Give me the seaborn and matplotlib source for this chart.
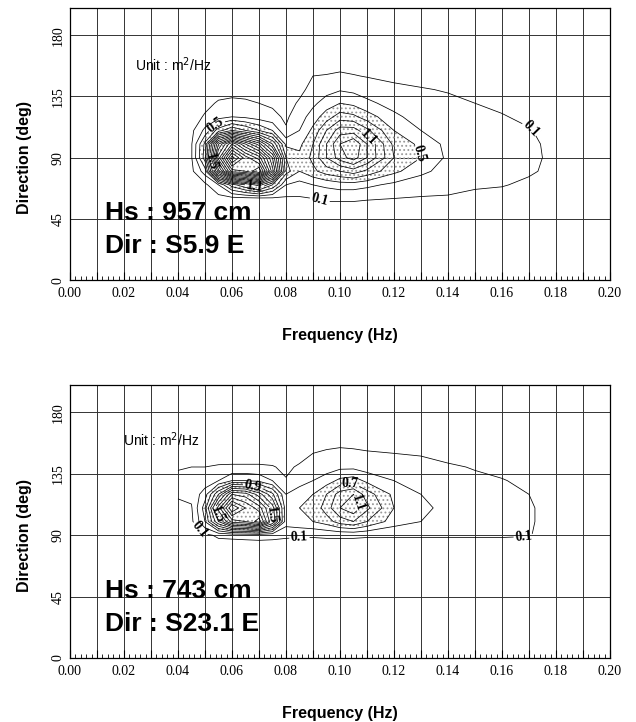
import numpy as np
import matplotlib
matplotlib.use("Agg")
import matplotlib.pyplot as plt
import seaborn as sns
from matplotlib.ticker import MultipleLocator

# grid of the directional spectra, unit m^2/Hz
freq = [0.040, 0.045, 0.050, 0.055, 0.060, 0.065, 0.070, 0.075, 0.080, 0.085, 0.090,
        0.095, 0.100, 0.105, 0.110, 0.120, 0.130, 0.140, 0.150, 0.160, 0.170, 0.180]
dirs = [40, 50, 60, 70, 80, 90, 100, 110, 120, 130, 140, 150, 160]

# one row per frequency, values over dirs
spec_top = [
    [0, 0, 0, 0, 0, 0, 0, 0, 0, 0, 0, 0, 0],
    [0, 0, 0, 0.02, 0.05, 0.08, 0.08, 0.05, 0.02, 0, 0, 0, 0],
    [0, 0, 0.01, 0.05, 0.4, 0.8, 0.75, 0.35, 0.12, 0.05, 0, 0, 0],
    [0, 0, 0.02, 0.3, 2.0, 2.8, 2.3, 0.8, 0.22, 0.12, 0.03, 0, 0],
    [0, 0, 0.03, 0.8, 3.2, 4.0, 3.1, 1.1, 0.3, 0.14, 0.04, 0, 0],
    [0, 0, 0.04, 1.1, 3.3, 3.4, 2.5, 0.9, 0.26, 0.13, 0.03, 0, 0],
    [0, 0, 0.05, 1.4, 3.7, 3.0, 2.0, 0.7, 0.2, 0.1, 0.02, 0, 0],
    [0, 0, 0.06, 0.9, 2.4, 2.1, 1.3, 0.5, 0.15, 0.07, 0.01, 0, 0],
    [0, 0.01, 0.07, 0.3, 0.8, 0.7, 0.45, 0.12, 0.07, 0.04, 0.01, 0, 0],
    [0, 0.02, 0.08, 0.22, 0.5, 0.55, 0.45, 0.3, 0.2, 0.12, 0.06, 0.01, 0],
    [0, 0.03, 0.1, 0.3, 0.65, 0.75, 0.7, 0.55, 0.4, 0.25, 0.15, 0.1, 0],
    [0, 0.03, 0.12, 0.35, 0.8, 1.1, 1.1, 0.9, 0.6, 0.4, 0.22, 0.11, 0.02],
    [0, 0.03, 0.12, 0.4, 0.9, 1.4, 1.5, 1.2, 0.8, 0.5, 0.28, 0.13, 0.03],
    [0, 0.03, 0.12, 0.4, 1.0, 1.6, 1.7, 1.2, 0.75, 0.45, 0.25, 0.11, 0.02],
    [0, 0.03, 0.11, 0.35, 0.85, 1.3, 1.3, 0.95, 0.6, 0.35, 0.2, 0.09, 0.01],
    [0, 0.03, 0.1, 0.25, 0.55, 0.7, 0.65, 0.5, 0.35, 0.22, 0.14, 0.06, 0],
    [0, 0.02, 0.09, 0.16, 0.36, 0.5, 0.45, 0.3, 0.2, 0.14, 0.11, 0.05, 0],
    [0, 0.02, 0.09, 0.13, 0.2, 0.26, 0.24, 0.2, 0.16, 0.13, 0.09, 0.02, 0],
    [0, 0.01, 0.06, 0.12, 0.17, 0.19, 0.18, 0.16, 0.13, 0.1, 0.05, 0, 0],
    [0, 0, 0.04, 0.11, 0.15, 0.16, 0.15, 0.14, 0.11, 0.07, 0.02, 0, 0],
    [0, 0, 0.01, 0.07, 0.12, 0.13, 0.13, 0.11, 0.07, 0.03, 0, 0, 0],
    [0, 0, 0, 0.02, 0.06, 0.07, 0.06, 0.04, 0.02, 0, 0, 0, 0],
]

spec_bottom = [
    [0, 0, 0, 0, 0, 0, 0.02, 0.04, 0.13, 0.13, 0.09, 0, 0],
    [0, 0, 0, 0, 0, 0.02, 0.05, 0.08, 0.15, 0.14, 0.1, 0, 0],
    [0, 0, 0, 0, 0, 0.06, 0.5, 0.6, 0.4, 0.18, 0.1, 0, 0],
    [0, 0, 0, 0, 0, 0.13, 1.3, 1.8, 1.1, 0.3, 0.12, 0, 0],
    [0, 0, 0, 0, 0, 0.14, 2.0, 2.7, 1.9, 0.5, 0.12, 0.02, 0],
    [0, 0, 0, 0, 0, 0.15, 2.1, 2.3, 1.8, 0.5, 0.12, 0.02, 0],
    [0, 0, 0, 0, 0, 0.16, 2.4, 2.0, 1.4, 0.45, 0.12, 0.02, 0],
    [0, 0, 0, 0, 0, 0.15, 1.5, 1.4, 0.95, 0.3, 0.11, 0.02, 0],
    [0, 0, 0, 0, 0, 0.13, 0.4, 0.4, 0.3, 0.11, 0.07, 0.01, 0],
    [0, 0, 0, 0, 0, 0.12, 0.45, 0.5, 0.4, 0.22, 0.12, 0.04, 0],
    [0, 0, 0, 0, 0, 0.12, 0.5, 0.55, 0.5, 0.3, 0.16, 0.1, 0],
    [0, 0, 0, 0, 0, 0.13, 0.6, 0.8, 0.7, 0.4, 0.2, 0.13, 0.02],
    [0, 0, 0, 0, 0, 0.13, 0.8, 1.1, 1.0, 0.55, 0.25, 0.15, 0.03],
    [0, 0, 0, 0, 0, 0.13, 0.9, 1.25, 1.1, 0.6, 0.25, 0.14, 0.02],
    [0, 0, 0, 0, 0, 0.12, 0.7, 0.95, 0.8, 0.45, 0.2, 0.12, 0.01],
    [0, 0, 0, 0, 0, 0.12, 0.4, 0.5, 0.45, 0.3, 0.17, 0.1, 0],
    [0, 0, 0, 0, 0, 0.12, 0.3, 0.35, 0.3, 0.2, 0.14, 0.09, 0],
    [0, 0, 0, 0, 0, 0.12, 0.22, 0.24, 0.2, 0.16, 0.12, 0.05, 0],
    [0, 0, 0, 0, 0, 0.12, 0.16, 0.17, 0.15, 0.13, 0.09, 0.02, 0],
    [0, 0, 0, 0, 0, 0.12, 0.14, 0.14, 0.13, 0.11, 0.05, 0, 0],
    [0, 0, 0, 0, 0, 0.11, 0.12, 0.12, 0.1, 0.06, 0.01, 0, 0],
    [0, 0, 0, 0, 0, 0.02, 0.03, 0.03, 0.02, 0, 0, 0, 0],
]

levels = [round(0.1 + 0.2 * i, 1) for i in range(20)]

hs_text = ["Hs : 957 cm", "Hs : 743 cm"]
dir_text = ["Dir : S5.9 E", "Dir : S23.1 E"]

# contour labels: level -> places on the picture
labels_top = {0.5: [(0.055, 112), (0.128, 92)], 1.5: [(0.058, 90)], 1.1: [(0.069, 72), (0.108, 101)],
              0.1: [(0.093, 62), (0.171, 112)]}
labels_bottom = {0.9: [(0.067, 119)], 1.5: [(0.059, 108), (0.072, 104)], 0.7: [(0.104, 125)],
                 1.1: [(0.105, 112)], 0.1: [(0.05, 97), (0.085, 88), (0.168, 92)]}

sns.set_style("white")
plt.rcParams["font.family"] = ["Liberation Sans", "DejaVu Sans"]
plt.rcParams["text.color"] = "black"
plt.rcParams["axes.labelcolor"] = "black"
plt.rcParams["xtick.color"] = "black"
plt.rcParams["ytick.color"] = "black"
plt.rcParams["hatch.linewidth"] = 0.8

fig = plt.figure(figsize=(6.36, 7.22), dpi=100)
ax_top = fig.add_axes([0.110, 0.612, 0.849, 0.377])
ax_bot = fig.add_axes([0.110, 0.0886, 0.849, 0.378])

serif = ["Liberation Serif", "DejaVu Serif"]

for ax, spec, hs, dr, lab, unit_xy in [
    (ax_top, spec_top, hs_text[0], dir_text[0], labels_top, (0.024, 158)),
    (ax_bot, spec_bottom, hs_text[1], dir_text[1], labels_bottom, (0.0195, 160)),
]:
    Z = np.array(spec).T
    cf = ax.contourf(freq, dirs, Z, levels=[0.5, 10], colors="none", hatches=["...."])
    cf.set_edgecolor("0.6")
    cf.set_linewidth(0)
    plain = [lv for lv in levels if lv not in lab]
    ax.contour(freq, dirs, Z, levels=plain, colors="black", linewidths=0.55)
    for lev, pos in lab.items():
        cs = ax.contour(freq, dirs, Z, levels=[lev], colors="black", linewidths=0.55)
        txts = ax.clabel(cs, manual=pos, inline=True, fmt="%.1f", fontsize=10)
        for t in txts:
            t.set_family(serif)
            t.set_fontweight("bold")

    ax.set_xlim(0, 0.20)
    ax.set_ylim(0, 200)
    ticks = np.round(np.arange(0, 0.2001, 0.01), 2)
    ax.set_xticks(ticks)
    ax.xaxis.set_minor_locator(MultipleLocator(0.002))
    ax.set_yticks([0, 45, 90, 135, 180])
    ax.set_xticklabels([f"{t:.2f}" if i % 2 == 0 else "" for i, t in enumerate(ticks)],
                       family=serif, fontsize=10)
    ax.set_yticklabels(["0", "45", "90", "135", "180"], family=serif, fontsize=10, rotation=90, va="center")
    ax.tick_params(axis="x", which="major", direction="in", length=6, width=0.8, pad=5, bottom=True)
    ax.tick_params(axis="x", which="minor", direction="in", length=3, width=0.6, bottom=True)
    ax.tick_params(axis="y", length=0, pad=4)
    ax.grid(True, which="major", color="0.2", linewidth=0.7)
    for s in ax.spines.values():
        s.set_color("black")
        s.set_linewidth(0.9)

    ax.set_xlabel("Frequency (Hz)", fontsize=11.5, fontweight="bold", labelpad=20)
    ax.set_ylabel("Direction (deg)", fontsize=11.5, fontweight="bold")
    ax.yaxis.set_label_coords(-0.07, 0.45)

    ax.text(unit_xy[0], unit_xy[1], "Unit : m$^2$/Hz", fontsize=10, va="center", ha="left")
    ax.text(0.013, 49, hs, fontsize=19, fontweight="bold", va="center", ha="left")
    ax.text(0.013, 25, dr, fontsize=19, fontweight="bold", va="center", ha="left")

fig.savefig("out.png", dpi=100)
